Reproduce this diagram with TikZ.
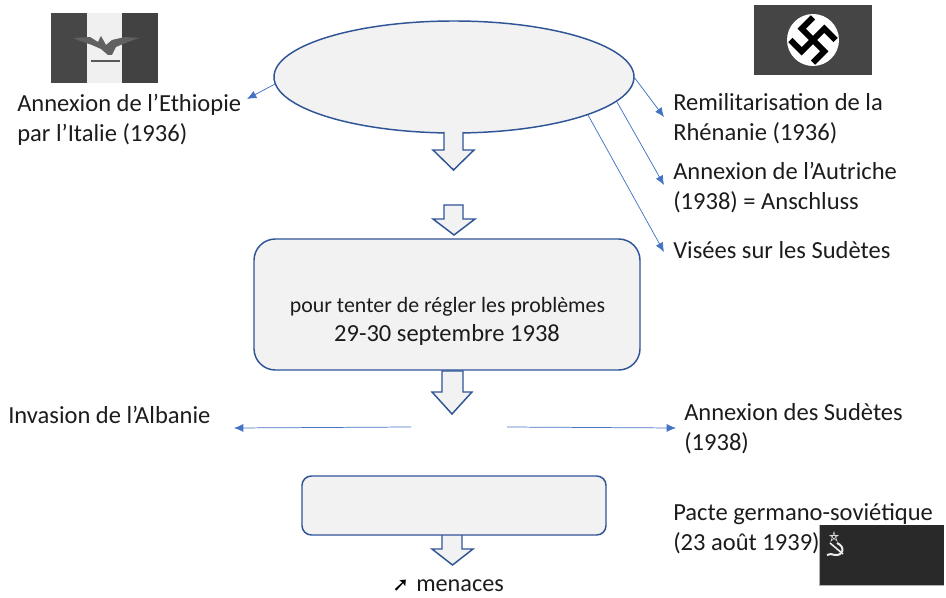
\documentclass[tikz,border=0pt]{standalone}
\usepackage{fontspec}
\setmainfont{Carlito}
\newfontfamily\symfont{DejaVu Sans}
\usetikzlibrary{arrows.meta,shapes.geometric}
\definecolor{boxline}{HTML}{2F5597}
\definecolor{boxfill}{HTML}{F2F2F2}
\definecolor{linkblue}{HTML}{4472C4}
\definecolor{ink}{HTML}{1C1C1C}
\tikzset{
  x=0.75pt,y=-0.75pt,
  txt/.style={anchor=west,inner sep=0pt,align=left,text=ink,font=\fontsize{18.4}{22.5}\selectfont},
  link/.style={draw=linkblue,line width=0.55pt,-{Latex[length=7pt,width=6pt]}},
  bigbox/.style={draw=boxline,fill=boxfill,line width=1.1pt,rounded corners=16pt},
  smallbox/.style={draw=boxline,fill=boxfill,line width=1.1pt,rounded corners=7pt},
  blockarrow/.style={draw=boxline,fill=boxfill,line width=1.1pt,line join=miter},
}
\begin{document}
\begin{tikzpicture}
\useasboundingbox (0,0) rectangle (946,598);
\fill[white] (0,0) rectangle (946,598);

% Italian flag
\fill[black!72] (51,13) rectangle (87,83);
\fill[black!6] (87,13) rectangle (122,83);
\fill[black!74] (122,13) rectangle (158,83);
\fill[black!62] (73,38) -- (90,37) -- (98,42) -- (101,36) -- (106,45) -- (112,40) -- (125,37) -- (139,38) -- (128,42) -- (116,47) -- (112,55) -- (108,55) -- (101,49) -- (92,45) -- (80,41) -- cycle;
\draw[black!65,line width=1pt] (91,61) -- (120,61);

% German flag
\fill[black!73] (754,5) rectangle (872,75);
\fill[white] (813,40) circle (26);
\begin{scope}[shift={(813,40)},rotate=45,line width=4.4pt,black,line cap=butt,line join=miter]
  \draw (16,-16) -- (0,-16) -- (0,16) -- (-16,16);
  \draw (-16,-16) -- (-16,0) -- (16,0) -- (16,16);
\end{scope}

% Ellipse and its arrows
\node[ellipse,draw=boxline,fill=boxfill,line width=1.1pt,minimum width=270pt,minimum height=84pt,inner sep=0pt] (ell) at (454,77) {};
\coordinate (eA) at (275,84);
\coordinate (eB) at (634,77);
\coordinate (eC) at (617,102);
\coordinate (eD) at (588,115);
\coordinate (tA) at (247,99);
\coordinate (tB) at (664,117);
\coordinate (tC) at (664,185);
\coordinate (tD) at (664,252);
\draw[link] (eA) -- (tA);
\draw[link] (eB) -- (tB);
\draw[link] (eC) -- (tC);
\draw[link] (eD) -- (tD);

% Texts
\node[txt] (ethiopie) at (17,120) {Annexion de l’Ethiopie\\par l’Italie (1936)};
\node[txt] (rhenanie) at (673,119) {Remilitarisation de la\\Rhénanie (1936)};
\node[txt] (autriche) at (673,188) {Annexion de l’Autriche\\(1938) = Anschluss};
\node[txt] (sudetes) at (673,250) {Visées sur les Sudètes};
\node[txt] (albanie) at (8,415) {Invasion de l’Albanie};
\node[txt] (annexsud) at (684,429) {Annexion des Sudètes\\(1938)};
\node[txt] (pacte) at (673,529) {Pacte germano-soviétique\\(23 août 1939)};

% Block arrows
\draw[blockarrow] (444,132) -- (444,150) -- (433,150) -- (453.5,170) -- (474,150) -- (463,150) -- (463,132);
\draw[blockarrow] (444,205) -- (444,219) -- (433,219) -- (454,235) -- (475,219) -- (463,219) -- (463,205) -- cycle;
\draw[blockarrow] (442,371) -- (442,392) -- (432,392) -- (452,414) -- (472,392) -- (463,392) -- (463,371) -- cycle;
\draw[blockarrow] (442,535) -- (442,549) -- (432,549) -- (452.5,565) -- (473,549) -- (462,549) -- (462,535);

% Boxes
\node[bigbox,minimum width=289.5pt,minimum height=98.25pt,inner sep=0pt] (conf) at (447,304.5) {};
\node[anchor=center,inner sep=0pt,text=ink,font=\fontsize{16.4}{20}\selectfont] (pourtenter) at (447.5,306.5) {pour tenter de régler les problèmes};
\node[anchor=center,inner sep=0pt,text=ink,font=\fontsize{18.4}{22}\selectfont] (datesconf) at (447,334.5) {29-30 septembre 1938};
\node[smallbox,minimum width=228pt,minimum height=44.25pt,inner sep=0pt] (pactbox) at (454,505.5) {};

% Lower arrows
\coordinate (lA) at (411,427);
\coordinate (lB) at (507,427);
\coordinate (rA) at (234,428);
\coordinate (rB) at (676,428);
\draw[link] (lA) -- (rA);
\draw[link] (lB) -- (rB);

% Menaces
\node[anchor=base west,inner sep=0pt,text=ink,font=\fontsize{18.2}{22}\selectfont] (menaces) at (416,591) {menaces};
\node[anchor=base west,inner sep=0pt,text=black,font=\symfont\bfseries\fontsize{15}{17}\selectfont] (arrowsym) at (392,591) {➚};

% Soviet flag
\fill[black!84] (819,525) rectangle (944,585);
\draw[black!30,line width=0.4pt] (819,525) -- (819,585) -- (944,585);
\draw[black!15,line width=0.4pt] (834,532) -- (837,541) -- (830,535.5) -- (838,535.5) -- (831,541) -- cycle;
\draw[black!8,line width=1.5pt] (837,543) .. controls (846,547) and (843,556) .. (835,555) .. controls (832,554.5) and (829,553) .. (827,555);
\draw[black!8,line width=1.2pt] (830,543) -- (843,554);
\end{tikzpicture}
\end{document}
